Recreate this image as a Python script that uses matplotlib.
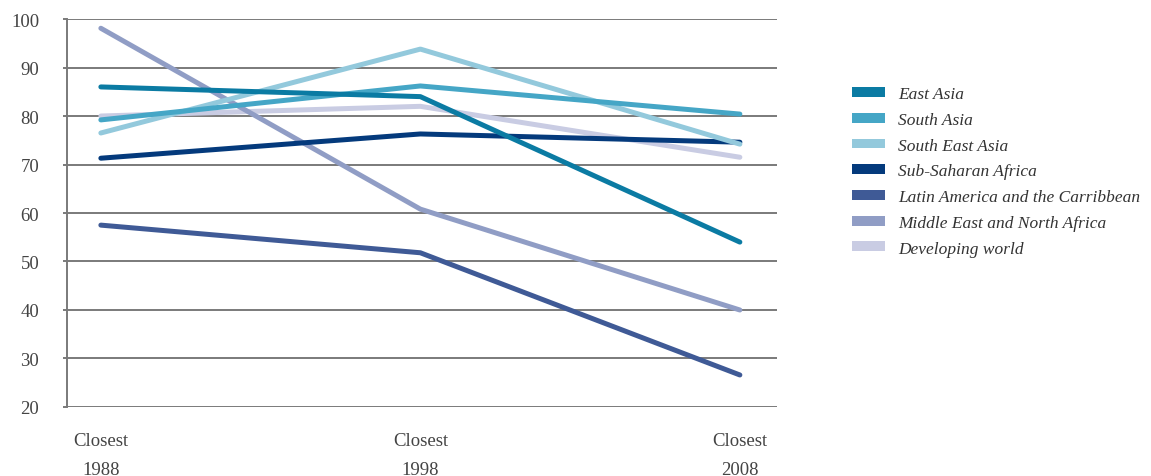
import matplotlib.pyplot as plt
from matplotlib.patches import Patch

periods = ["Closest\n1988", "Closest\n1998", "Closest\n2008"]

east_asia = [86.0, 84.0, 54.0]
south_asia = [79.2, 86.2, 80.4]
south_east_asia = [76.5, 93.8, 74.2]
sub_saharan = [71.3, 76.3, 74.6]
latin_america = [57.5, 51.8, 26.6]
mena = [98.1, 60.8, 40.0]
developing = [80.0, 82.0, 71.5]

series = [
    ("East Asia", east_asia, "#0b7ba3"),
    ("South Asia", south_asia, "#45a6c6"),
    ("South East Asia", south_east_asia, "#93c9dc"),
    ("Sub-Saharan Africa", sub_saharan, "#043a7c"),
    ("Latin America and the Carribbean", latin_america, "#3f5a96"),
    ("Middle East and North Africa", mena, "#909dc5"),
    ("Developing world", developing, "#c9cce3"),
]

plt.rcParams["font.family"] = ["Liberation Serif", "DejaVu Serif"]

fig = plt.figure(figsize=(11.51, 4.77), dpi=100)
ax = fig.add_axes([0.0582, 0.1447, 0.6168, 0.8133])

x = list(range(len(periods)))
# draw in reverse so East Asia ends up on top
for name, vals, col in reversed(series):
    ax.plot(x, vals, color=col, lw=3.6, solid_capstyle="round", zorder=3)

ax.set_xlim(-0.106, 2.116)
ax.set_ylim(20, 100)
ax.set_yticks(range(20, 101, 10))
ax.set_xticks(x)
ax.set_xticklabels(periods)
for lbl in ax.get_xticklabels():
    lbl.set_linespacing(1.95)

ax.grid(axis="y", color="#7a7a7a", lw=1.4, zorder=1)
for s in ["top", "right", "bottom"]:
    ax.spines[s].set_visible(False)
ax.spines["left"].set_color("#7a7a7a")
ax.spines["left"].set_linewidth(1.4)
ax.tick_params(axis="both", labelsize=13.5, colors="#444444")
ax.tick_params(axis="y", length=3, width=1.4, color="#7a7a7a", pad=17)
ax.tick_params(axis="x", length=0, pad=18)

handles = [Patch(facecolor=c, edgecolor="none") for _, _, c in series]
labels = [n for n, _, _ in series]
fig.legend(handles, labels, loc="upper left", bbox_to_anchor=(0.727, 0.85),
           frameon=False, prop={"style": "italic", "size": 12.5},
           handlelength=1.9, handleheight=0.5, handletextpad=0.72,
           labelspacing=0.56, labelcolor="#333333")

fig.savefig("out.png", dpi=100)
